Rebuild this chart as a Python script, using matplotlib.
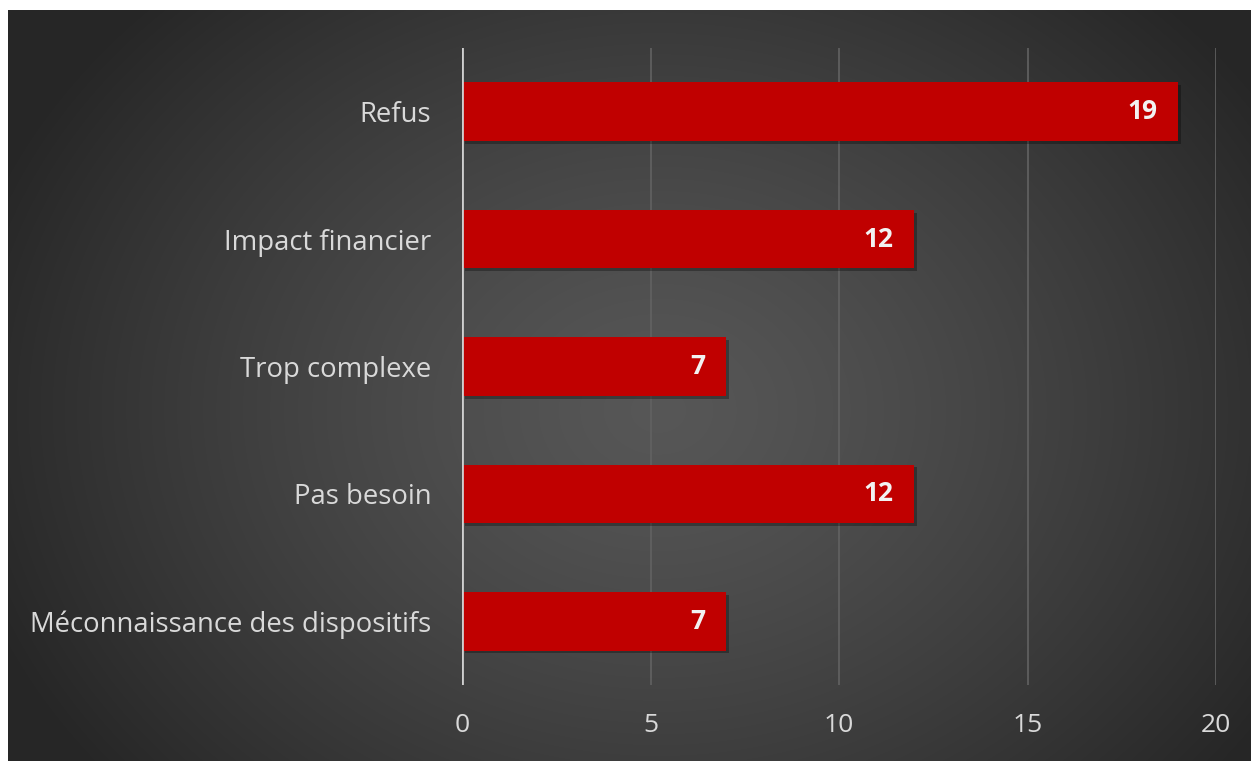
import numpy as np
import matplotlib
matplotlib.use('Agg')
from matplotlib import pyplot as plt
from matplotlib import patheffects as pe

categories = ['Refus', 'Impact financier', 'Trop complexe', 'Pas besoin',
              'Méconnaissance des dispositifs']
values = [19, 12, 7, 12, 7]
xticks = [0, 5, 10, 15, 20]

plt.rcParams['font.family'] = ['Open Sans', 'DejaVu Sans']

W, H = 1251, 761
fig = plt.figure(figsize=(W / 100, H / 100), dpi=100)
fig.patch.set_facecolor('white')

# radial gradient background (dark grey, lighter in the middle)
bg = fig.add_axes([8 / W, 0, 1 - 8 / W, 1 - 10 / H])
yy, xx = np.mgrid[0:751, 0:1243]
r = np.sqrt(((xx - 650) / 720.0) ** 2 + ((yy - 400) / 580.0) ** 2)
shade = 0.34 - 0.19 * np.clip(r, 0, 1) ** 1.3
img = np.dstack([shade, shade, shade])
bg.imshow(img, aspect='auto', interpolation='bilinear')
bg.axis('off')

ax = fig.add_axes([462 / W, 1 - 685 / H, (1216 - 462) / W, (685 - 48) / H])
ax.patch.set_alpha(0)
pos = np.arange(len(categories))
bars = ax.barh(pos, values, height=0.46, color='#C00000', zorder=3,
               path_effects=[pe.SimplePatchShadow(offset=(2, -2), shadow_rgbFace='black', alpha=0.3),
                             pe.Normal()])
ax.set_ylim(len(categories) - 0.5, -0.5)
ax.set_xlim(0, 20)
ax.set_xticks(xticks)
ax.set_yticks(pos)
ax.set_yticklabels(categories, fontsize=19.8)
for s in ax.spines.values():
    s.set_visible(False)
ax.grid(axis='x', color='#626262', linewidth=1.2, zorder=0)
ax.axvline(0, color='#cfcfcf', linewidth=2, zorder=4)
ax.tick_params(length=0, colors='#d9d9d9')
ax.tick_params(axis='x', pad=20, labelsize=19)
ax.tick_params(axis='y', pad=22)

for b, v in zip(bars, values):
    ax.text(v - 0.55, b.get_y() + b.get_height() / 2, str(v), ha='right',
            va='center', color='#f2f2f2', fontsize=19, fontweight='bold', zorder=5)

fig.savefig('out.png', dpi=100)
